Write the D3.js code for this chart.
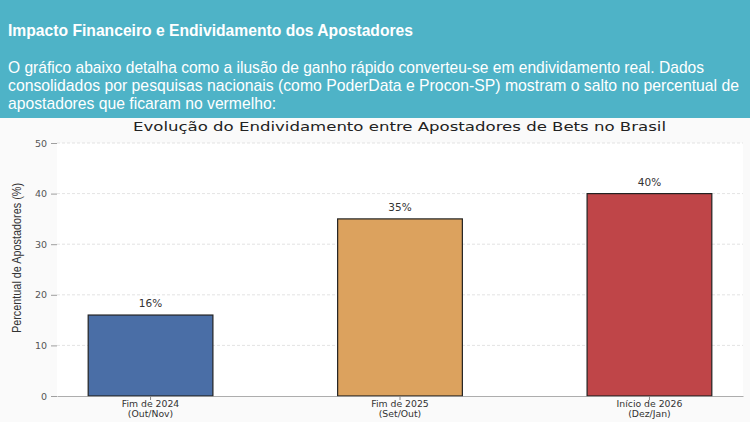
<!DOCTYPE html>
<html><head><meta charset="utf-8">
<script src="https://cdn.jsdelivr.net/npm/d3@7/dist/d3.min.js"></script>
<style>
html,body{margin:0;padding:0;background:#fafafa;}
svg{display:block;}
</style></head>
<body>
<svg id="c" width="750" height="422"></svg>
<script>
const categories = ["Fim de 2024\n(Out/Nov)", "Fim de 2025\n(Set/Out)", "Início de 2026\n(Dez/Jan)"];
const values = [16, 35, 40];
const colors = ["#4a6ea6", "#dca25e", "#bf4548"];
const yTicks = [0, 10, 20, 30, 40, 50];
const heading = "Impacto Financeiro e Endividamento dos Apostadores";
const paragraph = [
  "O gráfico abaixo detalha como a ilusão de ganho rápido converteu-se em endividamento real. Dados",
  "consolidados por pesquisas nacionais (como PoderData e Procon-SP) mostram o salto no percentual de",
  "apostadores que ficaram no vermelho:"
];
const chartTitle = "Evolução do Endividamento entre Apostadores de Bets no Brasil";
const yLabel = "Percentual de Apostadores (%)";

const svg = d3.select("#c");
const W = 750, H = 422;

// header
svg.append("rect").attr("x",0).attr("y",0).attr("width",W).attr("height",118).attr("fill","#4eb3c7");
svg.append("text").attr("x",8).attr("y",36).attr("fill","#fff")
  .attr("font-family","Liberation Sans, Arial, sans-serif").attr("font-size",16.5).attr("font-weight","bold")
  .attr("textLength",405).attr("lengthAdjust","spacingAndGlyphs").text(heading);
const pl = [696, 731, 268];
const pb = [73, 91, 109];
paragraph.forEach((t,i)=>{
  svg.append("text").attr("x",8).attr("y",pb[i]).attr("fill","#fff")
    .attr("font-family","Liberation Sans, Arial, sans-serif").attr("font-size",16.2)
    .attr("textLength",pl[i]).attr("lengthAdjust","spacingAndGlyphs").text(t);
});

// chart
const m = {left:57, right:743, top:143, bottom:396};
svg.append("rect").attr("x",m.left).attr("y",m.top).attr("width",m.right-m.left).attr("height",m.bottom-m.top).attr("fill","#fff");

const x = d3.scaleBand().domain(categories).range([m.left, m.right]).paddingInner(0.5).paddingOuter(0.125);
const y = d3.scaleLinear().domain([0,50]).range([m.bottom, m.top]);

const font = "DejaVu Sans, sans-serif";

// grid
svg.append("g").selectAll("line").data(yTicks.filter(d=>d>0)).join("line")
  .attr("x1",m.left).attr("x2",m.right).attr("y1",d=>y(d)).attr("y2",d=>y(d))
  .attr("stroke","#dcdcdc").attr("stroke-width",0.8).attr("stroke-dasharray","3,2");

// y axis
const ya = svg.append("g").attr("transform",`translate(${m.left},0)`)
  .call(d3.axisLeft(y).tickValues(yTicks).tickSize(6).tickPadding(4));
ya.select(".domain").remove();
ya.selectAll(".tick line").attr("stroke","#888").attr("stroke-width",0.8);
ya.selectAll(".tick text").attr("fill","#555").attr("font-family",font).attr("font-size",9.5);

// bars
svg.append("g").selectAll("rect").data(values).join("rect")
  .attr("x",(d,i)=>x(categories[i])).attr("width",x.bandwidth())
  .attr("y",d=>y(d)).attr("height",d=>y(0)-y(d))
  .attr("fill",(d,i)=>colors[i]).attr("stroke","#222").attr("stroke-width",1.2);

// value labels
svg.append("g").selectAll("text").data(values).join("text")
  .attr("x",(d,i)=>x(categories[i])+x.bandwidth()/2).attr("y",d=>y(d)-8)
  .attr("text-anchor","middle").attr("fill","#333").attr("font-family",font).attr("font-size",10.5)
  .text(d=>d+"%");

// x axis
const xa = svg.append("g").attr("transform",`translate(0,${m.bottom})`)
  .call(d3.axisBottom(x).tickSize(4).tickSizeOuter(0).tickFormat(""));
xa.select(".domain").attr("stroke","#999").attr("stroke-width",0.8);
xa.selectAll(".tick line").attr("stroke","#888");
categories.forEach(c=>{
  const lines = c.split("\n");
  const t = svg.append("text").attr("x",x(c)+x.bandwidth()/2).attr("y",m.bottom+11)
    .attr("text-anchor","middle").attr("fill","#333").attr("font-family",font).attr("font-size",9.3);
  lines.forEach((l,i)=>t.append("tspan").attr("x",x(c)+x.bandwidth()/2).attr("dy",i?9.8:0).text(l));
});

// title
svg.append("text").attr("x",(133+666)/2).attr("y",131).attr("text-anchor","middle")
  .attr("fill","#222").attr("font-family",font).attr("font-size",12.5)
  .attr("textLength",533).attr("lengthAdjust","spacingAndGlyphs").text(chartTitle);

// y label
svg.append("text").attr("transform",`translate(21,258) rotate(-90)`)
  .attr("text-anchor","middle").attr("fill","#333")
  .attr("font-family","Liberation Sans Narrow, Liberation Sans, sans-serif").attr("font-size",12)
  .attr("textLength",150).attr("lengthAdjust","spacingAndGlyphs").text(yLabel);
</script>
</body></html>
